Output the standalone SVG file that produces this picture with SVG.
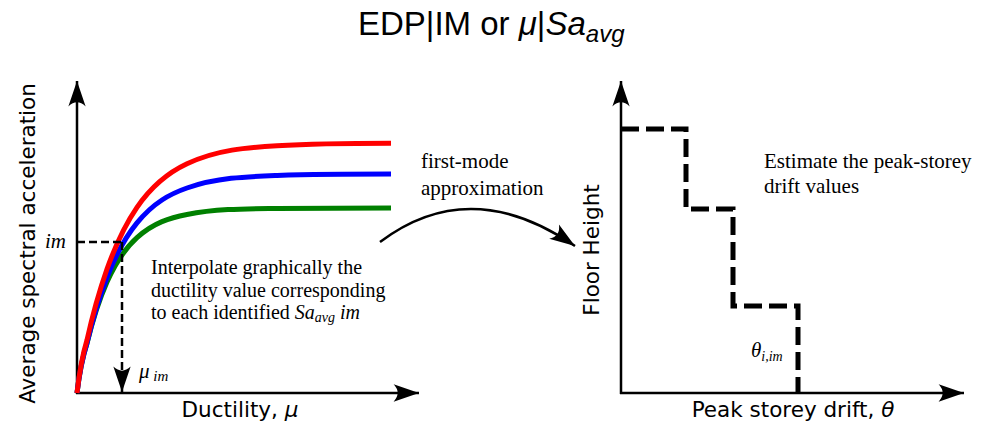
<svg xmlns="http://www.w3.org/2000/svg" width="992" height="425" viewBox="0 0 992 425">
<defs>
<style>
.axis{stroke:#000;stroke-width:2.5;fill:none}
.curve{fill:none;stroke-width:5;stroke-linejoin:round;stroke-linecap:butt}
.dash{stroke:#000;stroke-width:2.5;fill:none;stroke-dasharray:8 4}
.step{stroke:#000;stroke-width:5;fill:none;stroke-dasharray:18 7;stroke-linejoin:miter}
.sans{font-family:"DejaVu Sans",sans-serif;font-size:21.5px;fill:#000}
.serif{font-family:"Liberation Serif","Times New Roman",serif;font-size:21px;fill:#000}
.note{font-size:20px}
.title{font-family:"Liberation Sans",Arial,sans-serif;font-size:33px;fill:#000}
</style>
<marker id="ah" markerUnits="userSpaceOnUse" markerWidth="30" markerHeight="30" viewBox="-24 -11 26 22" refX="0" refY="0" orient="auto" overflow="visible">
<path d="M0,0 L-22,-7.5 Q-15,0 -22,7.5 Z" fill="#000"/>
</marker>
</defs>

<g id="title">
<text class="title" x="358" y="35">EDP|IM or <tspan font-style="italic">μ</tspan>|<tspan font-style="italic">Sa</tspan><tspan font-style="italic" font-size="24" dy="7">avg</tspan></text>
</g>

<g id="left-plot">
<g id="left-axes">
<line class="axis" x1="77" y1="394" x2="77" y2="81" marker-end="url(#ah)"/>
<line class="axis" x1="76" y1="393" x2="419" y2="393" marker-end="url(#ah)"/>
</g>
<g id="curves">
<path class="curve" stroke="#008000" d="M77,393 C79.5,372 82.5,357 87,343.5 C93.67,316 100.33,297.2 107,282.1 C117,259.5 127,246.75 137,237.7 C153.67,222.6 170.33,217.8 187,214.5 C217,208.6 247,208.8 277,208.4 C315,208.1 353,208 391,208"/>
<path class="curve" stroke="#0000ff" d="M77,393 C79.5,372 82.5,357.5 87,343 C93.67,315 100.33,294.75 107,277.5 C117,251.6 127,235.1 137,222.9 C153.67,202.5 170.33,193.8 187,188 C217,177.5 247,176.6 277,175.5 C315,174.3 353,174.1 391,174.1"/>
<path class="curve" stroke="#ff0000" d="M77,393 C79.5,371 82.5,355 87,340 C93.67,310 100.33,288 107,269 C117,241.3 127,222 137,207.4 C153.67,183.1 170.33,171.6 187,163.8 C217,149.7 247,147.55 277,145.7 C315,143.4 353,143.2 391,143.2"/>
</g>
<g id="im-lines">
<line class="dash" x1="77" y1="242" x2="122" y2="242"/>
<line class="dash" x1="122" y1="242" x2="122" y2="392" marker-end="url(#ah)"/>
</g>
<text class="serif" x="45" y="248" font-style="italic">im</text>
<text class="serif" x="139" y="378" font-style="italic">μ<tspan font-size="15" dy="3"> im</tspan></text>
<g id="interpolate-note">
<text class="serif note" x="151" y="274">Interpolate graphically the</text>
<text class="serif note" x="151" y="296.5">ductility value corresponding</text>
<text class="serif note" x="151" y="319">to each identified <tspan font-style="italic">Sa</tspan><tspan font-style="italic" font-size="14" dy="3">avg</tspan><tspan dy="-3"> </tspan><tspan font-style="italic">im</tspan></text>
</g>
<text class="sans" transform="translate(35,243.5) rotate(-90)" text-anchor="middle">Average spectral acceleration</text>
<text class="sans" x="240" y="417" text-anchor="middle">Ductility, <tspan font-style="italic">μ</tspan></text>
</g>

<g id="connector">
<path d="M380,242 Q470,174 575,246" fill="none" stroke="#000" stroke-width="2.5" marker-end="url(#ah)"/>
<text class="serif" x="421" y="168">first-mode</text>
<text class="serif" x="421" y="195">approximation</text>
</g>

<g id="right-plot">
<g id="right-axes">
<line class="axis" x1="621" y1="394" x2="621" y2="81" marker-end="url(#ah)"/>
<line class="axis" x1="620" y1="393" x2="964" y2="393" marker-end="url(#ah)"/>
</g>
<path id="drift-profile" class="step" d="M621,129 H686 V209 H733 V306 H798 V393"/>
<text class="serif" x="764" y="168">Estimate the peak-storey</text>
<text class="serif" x="764" y="193">drift values</text>
<text class="serif" x="751" y="357" font-style="italic">θ<tspan font-size="14" dy="4">i,im</tspan></text>
<text class="sans" transform="translate(599,250) rotate(-90)" text-anchor="middle">Floor Height</text>
<text class="sans" x="793" y="417" text-anchor="middle">Peak storey drift, <tspan font-style="italic">θ</tspan></text>
</g>
</svg>
